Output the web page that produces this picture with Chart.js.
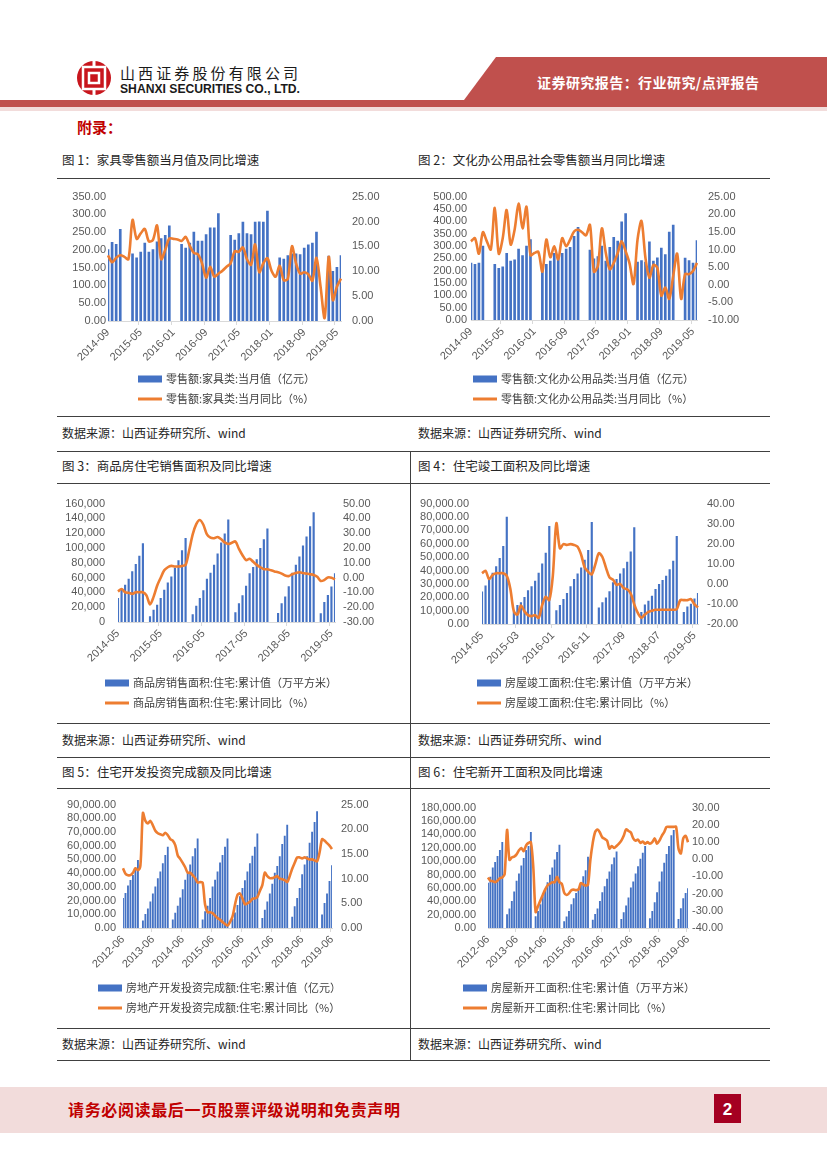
<!DOCTYPE html>
<html>
<head>
<meta charset="utf-8">
<script src="https://cdn.jsdelivr.net/npm/chart.js@4.4.1/dist/chart.umd.min.js"></script>
<style>
body { margin: 0; background: #fff; }
#page { position: relative; width: 827px; height: 1169px; overflow: hidden; font-family: "Noto Sans CJK SC", sans-serif; }
.hl { position: absolute; left: 57px; width: 713px; height: 0; border-top: 1.5px solid #404040; }
.vl { position: absolute; left: 410px; width: 0; border-left: 1.5px solid #404040; }
.cap { position: absolute; font-size: 12.5px; color: #262626; line-height: 16px; white-space: nowrap; }
.src { position: absolute; font-size: 12px; color: #262626; line-height: 16px; white-space: nowrap; }
canvas { position: absolute; }
</style>
</head>
<body>
<div id="page">
  <svg width="827" height="140" style="position:absolute;left:0;top:0">
    <polygon points="496,57 827,57 827,100 464,100" fill="#c0504d"/>
    <rect x="0" y="100" width="827" height="7" fill="#c0504d"/>
    <rect x="0" y="107" width="827" height="4" fill="#f2dcdb"/>
    <circle cx="94" cy="78" r="17" fill="#c8161d"/>
    <rect x="83" y="67" width="22" height="22" fill="none" stroke="#fff" stroke-width="2.5"/>
    <rect x="89" y="73" width="10" height="10" fill="none" stroke="#fff" stroke-width="2.5"/>
    <rect x="92.5" y="60" width="3" height="8" fill="#fff"/>
    <rect x="92.5" y="88" width="3" height="8" fill="#fff"/>
    <text x="120" y="79" font-size="15" fill="#1a1a1a" textLength="178" font-family="Noto Sans CJK SC">山西证券股份有限公司</text>
    <text x="120" y="93" font-size="12" font-weight="bold" fill="#1a1a1a" textLength="180" lengthAdjust="spacingAndGlyphs" font-family="Liberation Sans">SHANXI SECURITIES CO., LTD.</text>
    <text x="537" y="88" font-size="14" font-weight="bold" fill="#fff" textLength="222" font-family="Noto Sans CJK SC">证券研究报告：行业研究/点评报告</text>
    <text x="77" y="133" font-size="15" font-weight="bold" fill="#c00000" font-family="Noto Sans CJK SC">附录：</text>
  </svg>

  <div class="cap" style="left:62px;top:152px">图 1：家具零售额当月值及同比增速</div>
  <div class="cap" style="left:418px;top:152px">图 2：文化办公用品社会零售额当月同比增速</div>
  <div class="hl" style="top:178px"></div>
  <canvas id="c1"></canvas>
  <canvas id="c2"></canvas>
  <div class="hl" style="top:416px"></div>
  <div class="src" style="left:62px;top:425px">数据来源：山西证券研究所、wind</div>
  <div class="src" style="left:418px;top:425px">数据来源：山西证券研究所、wind</div>

  <div class="hl" style="top:451px"></div>
  <div class="vl" style="top:451px;height:609px"></div>
  <div class="cap" style="left:62px;top:458px">图 3：商品房住宅销售面积及同比增速</div>
  <div class="cap" style="left:418px;top:458px">图 4：住宅竣工面积及同比增速</div>
  <div class="hl" style="top:483px"></div>
  <canvas id="c3"></canvas>
  <canvas id="c4"></canvas>
  <div class="hl" style="top:723px"></div>
  <div class="src" style="left:62px;top:732px">数据来源：山西证券研究所、wind</div>
  <div class="src" style="left:418px;top:732px">数据来源：山西证券研究所、wind</div>

  <div class="hl" style="top:757px"></div>
  <div class="cap" style="left:62px;top:764px">图 5：住宅开发投资完成额及同比增速</div>
  <div class="cap" style="left:418px;top:764px">图 6：住宅新开工面积及同比增速</div>
  <div class="hl" style="top:788px"></div>
  <canvas id="c5"></canvas>
  <canvas id="c6"></canvas>
  <div class="hl" style="top:1028px"></div>
  <div class="src" style="left:62px;top:1036px">数据来源：山西证券研究所、wind</div>
  <div class="src" style="left:418px;top:1036px">数据来源：山西证券研究所、wind</div>
  <div class="hl" style="top:1060px"></div>

  <svg width="827" height="90" style="position:absolute;left:0;top:1080px">
    <rect x="0" y="7" width="827" height="46" fill="#f2dcdb"/>
    <text x="68" y="36" font-size="16" font-weight="bold" fill="#c00000" textLength="332" font-family="Noto Sans CJK SC">请务必阅读最后一页股票评级说明和免责声明</text>
    <rect x="714" y="14" width="27" height="29" fill="#a50021"/>
    <text x="727.5" y="35" font-size="17" font-weight="bold" fill="#fff" text-anchor="middle" font-family="Liberation Sans">2</text>
  </svg>
</div>

<script>
// month categories
function months(start, n) {
    const [y0, m0] = start.split('-').map(Number);
    const out = [];
    for (let i = 0; i < n; i++) {
        const t = m0 - 1 + i;
        out.push((y0 + Math.floor(t / 12)) + '-' + String(t % 12 + 1).padStart(2, '0'));
    }
    return out;
}

// 图1 家具
const furnMonths = months('2014-09', 58);
const furnSales = [
    201, 221, 216, 258,
    null, null, 189, 178, 194, 219, 194, 201, 223, 232, 241, 268,
    null, null, 216, 205, 219, 250, 225, 225, 243, 262, 262, 302,
    null, null, 241, 228, 246, 278, 246, 243, 278, 279, 278, 309,
    null, null, 178, 174, 184, 189, 189, 187, 205, 214, 219, 250,
    null, null, 183, 140, 151, 184];
const furnYoY = [
    13.2, 11.8, 12.7, 13.2,
    12.9, 12.4, 20.3, 16.5, 17.6, 18.5, 16.0, 16.3, 19.2, 12.4, 14.3, 16.6,
    16.5, 16.4, 16.1, 16.9, 15.1, 13.7, 13.4, 11.6, 8.7, 10.9, 8.9, 9.5,
    10.1, 10.9, 11.6, 14.0, 13.9, 14.8, 12.4, 11.3, 15.4, 9.8, 11.6, 12.6,
    10.1, 8.9, 11.1, 8.2, 8.5, 15.0, 11.6, 9.5, 9.8, 9.4, 8.1, 12.7,
    6.9, 0.6, 12.9, 4.2, 6.9, 8.5];
const furnLeftTicks = ['0.00', '50.00', '100.00', '150.00', '200.00', '250.00', '300.00', '350.00'];
const furnRightTicks = ['0.00', '5.00', '10.00', '15.00', '20.00', '25.00'];

// 图2 文化办公用品
const officeMonths = months('2014-09', 58);
const officeSales = [
    231, 226, 231, 300,
    null, null, 226, 209, 215, 270, 239, 244, 287, 261, 300, 326,
    null, null, 202, 226, 239, 270, 252, 270, 287, 294, 339, 375,
    null, null, 283, 248, 257, 300, 239, 294, 335, 320, 398, 431,
    null, null, 235, 241, 235, 317, 239, 252, 291, 265, 356, 385,
    null, null, 251, 241, 231, 322];
const officeYoY = [
    12.3, 13.2, 8.8, 14.9,
    12.3, 10.0, 21.8, 8.8, 13.2, 21.2, 11.4, 15.6, 23.0, 16.0, 22.1, 8.4,
    9.0, 9.3, 3.7, 12.8, 7.8, 10.9, 7.2, 13.2, 10.9, 12.8, 15.1, 15.6,
    14.9, 14.0, 17.0, 3.7, 5.3, 16.0, 9.0, 4.4, 6.2, 9.0, 12.3, 9.5,
    6.0, 0.2, 12.8, 18.1, 7.6, 2.0, 5.6, 4.8, -3.1, -0.8, -4.0, 2.5,
    8.8, -4.0, 3.0, 3.0, 3.9, 6.2];
const officeLeftTicks = ['0.00', '50.00', '100.00', '150.00', '200.00', '250.00', '300.00', '350.00', '400.00', '450.00', '500.00'];
const officeRightTicks = ['-10.00', '-5.00', '0.00', '5.00', '10.00', '15.00', '20.00', '25.00'];

// 图3 商品房住宅销售面积
const salesMonths = months('2014-05', 62);
const salesArea = [
    32000, 43000, 50000, 58000, 68000, 78000, 89000, 106000,
    null, 7300, 16000, 23000, 32000, 43000, 53000, 61000, 73000, 83000, 96500, 113000,
    null, 10000, 21500, 32000, 42500, 58000, 66000, 77000, 92000, 107000, 119000, 138000,
    null, 12700, 25000, 35600, 48500, 65600, 74000, 84500, 99500, 111500, 126000, null,
    null, 11600, 25000, 34000, 48000, 66000, 77000, 88000, 103000, 115000, 129000, 148000,
    null, 11500, 26600, 36000, 47500, 65600];
const salesYoY = [
    -9.4, -7.7, -9.9, -10.3, -11.0, -9.9, -9.9, -9.9,
    -12.0, -18.1, -13.0, -5.5, -0.1, 4.9, 7.0, 7.9, 7.5, 7.5, 7.9, 8.6,
    18.3, 29.2, 36.1, 38.9, 35.7, 29.2, 27.0, 26.6, 27.4, 25.9, 23.8, 22.7,
    23.5, 24.4, 19.4, 15.1, 11.8, 12.7, 10.7, 8.6, 7.0, 5.7, 5.7, 4.9,
    4.2, 3.6, 2.7, 1.4, 1.0, 2.3, 3.1, 3.6, 3.1, 2.7, 2.3, 1.8,
    0.5, -2.3, -1.6, 0.1, -0.1, -1.2];
const salesLeftTicks = ['0', '20,000', '40,000', '60,000', '80,000', '100,000', '120,000', '140,000', '160,000'];
const salesRightTicks = ['-30.00', '-20.00', '-10.00', '0.00', '10.00', '20.00', '30.00', '40.00', '50.00'];

// 图4 住宅竣工面积
const doneMonths = months('2014-05', 62);
const doneArea = [
    24000, 28600, 33000, 38000, 43000, 49000, 58000, 80000,
    null, 9000, 14000, 16000, 20000, 25000, 28000, 32000, 38000, 45000, 53000, 73000,
    null, 10000, 14000, 18400, 23000, 28000, 33400, 37500, 42000, 47700, 55000, 76000,
    null, 12000, 16000, 19600, 24300, 31000, 33400, 37500, 41500, 46300, 54000, 72000,
    null, 8800, 14300, 17200, 20800, 26000, 29600, 32700, 35800, 40600, 47000, 65600,
    null, 8800, 12900, 14800, 18900, 23000];
const doneYoY = [
    5.3, 6.5, 2.4, 4.4, 5.3, 5.3, 5.3, 4.0,
    -2.4, -13.7, -15.3, -10.8, -13.7, -15.6, -16.1, -15.6, -16.9, -10.5, -6.5, -8.1,
    4.0, 30.2, 17.7, 19.8, 19.4, 19.8, 19.4, 18.5, 14.5, 8.1, 6.0, 4.8,
    9.7, 15.3, 13.4, 8.1, 3.2, 2.1, -0.5, 0.0, -2.1, -2.7, -4.8, -10.2,
    -14.5, -16.9, -15.3, -14.0, -13.4, -12.9, -12.9, -12.9, -12.9, -12.9, -12.9, -12.6,
    -8.1, -8.1, -8.1, -7.6, -10.2, -11.8];
const doneLeftTicks = ['0.00', '10,000.00', '20,000.00', '30,000.00', '40,000.00', '50,000.00', '60,000.00', '70,000.00', '80,000.00', '90,000.00'];
const doneRightTicks = ['-20.00', '-10.00', '0.00', '10.00', '20.00', '30.00', '40.00'];

// 图5 住宅开发投资完成额
const investMonths = months('2012-06', 85);
const investValue = [
    21600, 25300, 30700, 34800, 38500, 42000, 49400,
    null, 5300, 10000, 14000, 19000, 25000, 30000, 36000, 41000, 47000, 53000, 59000,
    null, 6000, 10800, 16000, 22000, 28000, 35000, 40000, 46000, 52000, 58000, 65000,
    null, 6000, 12000, 16000, 21600, 30000, 35000, 41000, 47500, 53000, 59000, 65000,
    null, 6500, 11000, 16500, 23000, 29000, 34500, 41000, 47000, 52500, 59000, 68700,
    null, 7000, 13000, 19000, 25000, 32000, 40000, 45000, 52000, 61000, 67000, 75000,
    null, 8000, 15600, 21600, 29000, 39000, 46000, 52000, 62000, 70000, 77000, 85000,
    null, 9600, 18000, 25000, 34000, 45600];
const investYoY = [
    12.1, 11.0, 10.7, 10.7, 11.2, 12.1, 11.7,
    12.7, 23.3, 21.7, 21.2, 21.7, 20.8, 19.7, 19.2, 19.0, 18.8, 19.3, 18.8,
    18.0, 17.7, 16.8, 14.7, 14.0, 13.2, 12.3, 11.2, 11.2, 10.7, 10.1, 9.2,
    9.3, 9.2, 4.7, 3.2, 3.2, 3.0, 2.5, 2.0, 1.7, 1.2, 0.8, 0.5,
    1.2, 2.3, 4.7, 6.7, 7.0, 6.0, 4.8, 5.0, 5.3, 5.9, 6.0, 6.3,
    7.5, 8.7, 11.2, 10.5, 10.1, 10.1, 10.3, 10.5, 10.0, 9.9, 9.7, 9.3,
    10.5, 12.0, 13.2, 14.3, 14.3, 14.1, 14.3, 14.1, 13.9, 13.9, 13.7, 13.5,
    15.3, 18.0, 17.7, 17.2, 16.7, 16.0];
const investLeftTicks = ['0.00', '10,000.00', '20,000.00', '30,000.00', '40,000.00', '50,000.00', '60,000.00', '70,000.00', '80,000.00', '90,000.00'];
const investRightTicks = ['0.00', '5.00', '10.00', '15.00', '20.00', '25.00'];

// 图6 住宅新开工面积
const startMonths = months('2012-06', 85);
const startArea = [
    67000, 76000, 90000, 98000, 107000, 116000, 128000,
    null, 20000, 28700, 40000, 54000, 70000, 81000, 93000, 104000, 116000, 122000, 143000,
    null, 17000, 25000, 35000, 47000, 58000, 68000, 79000, 90000, 102000, 113000, 124000,
    null, 9600, 16700, 25000, 35000, 44000, 52000, 59000, 68000, 77000, 86000, 106000,
    null, 12000, 20600, 28700, 40000, 53000, 62000, 73000, 84000, 95000, 105000, 114000,
    null, 13000, 23000, 33000, 45000, 60000, 69000, 81000, 92000, 103000, 112000, 122000,
    null, 14000, 25000, 38000, 53000, 69000, 84000, 97000, 110000, 122000, 138000, 146000,
    null, 13000, 29000, 44000, 52000, 59000];
const startYoY = [
    -10.6, -12.5, -12.8, -13.4, -12.5, -11.0, -10.6,
    -8.7, 17.0, -0.4, 1.0, 1.5, 2.8, 5.2, 6.5, 4.7, 8.0, 9.5, 9.9,
    -4.1, -30.7, -27.4, -24.0, -20.8, -17.7, -15.3, -14.3, -13.4, -13.4, -10.2, -13.4,
    -14.3, -19.5, -20.8, -19.9, -18.0, -17.7, -18.0, -17.7, -13.9, -14.7, -15.3, -14.7,
    -0.4, 9.5, 15.8, 17.3, 15.5, 12.7, 11.8, 10.8, 6.2, 7.7, 6.5, 7.7,
    9.0, 10.8, 13.6, 17.3, 16.4, 15.5, 12.1, 10.8, 11.4, 9.5, 10.3, 9.0,
    9.9, 9.0, 9.9, 12.1, 9.0, 10.8, 13.6, 15.8, 18.8, 18.8, 18.8, 18.8,
    18.8, 6.2, 3.4, 12.1, 13.6, 9.9];
const startLeftTicks = ['0.00', '20,000.00', '40,000.00', '60,000.00', '80,000.00', '100,000.00', '120,000.00', '140,000.00', '160,000.00', '180,000.00'];
const startRightTicks = ['-40.00', '-30.00', '-20.00', '-10.00', '0.00', '10.00', '20.00', '30.00'];

const BLUE = '#4472c4';
const ORANGE = '#ed7d31';
Chart.defaults.font.family = '"Liberation Sans", sans-serif';
Chart.defaults.font.size = 11;
Chart.defaults.color = '#595959';

// two-row legend under the x labels, like the Excel one
const rowLegend = {
    id: 'rowLegend',
    afterDraw(chart, args, opts) {
        const ctx = chart.ctx, area = chart.chartArea;
        const sets = [chart.data.datasets[1], chart.data.datasets[0]];
        ctx.save();
        ctx.font = '11px "Noto Sans CJK SC", sans-serif';
        ctx.textBaseline = 'middle';
        sets.forEach(function (ds, i) {
            const y = area.bottom + opts.dy + i * 20;
            const x = opts.x;
            if (ds.type === 'bar') {
                ctx.fillStyle = ds.backgroundColor;
                ctx.fillRect(x, y - 3.5, 24, 7);
            } else {
                ctx.strokeStyle = ds.borderColor;
                ctx.lineWidth = 3;
                ctx.beginPath();
                ctx.moveTo(x, y);
                ctx.lineTo(x + 24, y);
                ctx.stroke();
            }
            ctx.fillStyle = '#404040';
            ctx.fillText(ds.label, x + 28, y);
        });
        ctx.restore();
    }
};

function drawChart(id, o) {
    const b = o.box, p = o.plot;
    const canvas = document.getElementById(id);
    canvas.width = b.w;
    canvas.height = b.h;
    canvas.style.left = b.x + 'px';
    canvas.style.top = b.y + 'px';
    const xH = 40;
    return new Chart(canvas, {
        type: 'bar',
        data: {
            labels: o.labels,
            datasets: [{
                type: 'line',
                label: o.lineLabel,
                data: o.line,
                yAxisID: 'y1',
                borderColor: ORANGE,
                borderWidth: 2.6,
                pointRadius: 0,
                tension: 0.3,
                order: 0
            }, {
                type: 'bar',
                label: o.barLabel,
                data: o.bars,
                yAxisID: 'y',
                backgroundColor: BLUE,
                barThickness: o.barW,
                order: 1
            }]
        },
        options: {
            responsive: false,
            animation: false,
            layout: { padding: { left: 0, right: 0, top: p.t - b.y, bottom: b.y + b.h - p.b - xH } },
            plugins: {
                legend: { display: false },
                tooltip: { enabled: false },
                rowLegend: { x: o.legendX, dy: o.legendDy }
            },
            scales: {
                x: {
                    offset: false,
                    border: { display: true, color: '#d9d9d9' },
                    grid: {
                        drawOnChartArea: false,
                        drawTicks: true,
                        tickLength: 4,
                        color: function (c) { return c.index % o.step === 0 ? '#d9d9d9' : 'rgba(0,0,0,0)'; }
                    },
                    ticks: {
                        autoSkip: false,
                        maxRotation: 45,
                        minRotation: 45,
                        padding: 1,
                        callback: function (v, i) { return i % o.step === 0 ? o.labels[i] : ''; }
                    },
                    afterFit: function (s) { s.height = xH; }
                },
                y: {
                    position: 'left',
                    min: o.left.min, max: o.left.max,
                    grid: { display: false, drawTicks: false },
                    border: { display: false },
                    ticks: { autoSkip: false, stepSize: o.left.step, padding: o.left.pad, callback: function (v, i) { return o.left.labels[i]; } },
                    afterFit: function (s) { s.width = p.l - b.x; }
                },
                y1: {
                    position: 'right',
                    min: o.right.min, max: o.right.max,
                    grid: { display: false, drawTicks: false },
                    border: { display: false },
                    ticks: { autoSkip: false, stepSize: o.right.step, padding: o.right.pad, callback: function (v, i) { return o.right.labels[i]; } },
                    afterFit: function (s) { s.width = b.x + b.w - p.r; }
                }
            }
        },
        plugins: [rowLegend]
    });
}

drawChart('c1', {
    box: { x: 57, y: 179, w: 352, h: 236 }, plot: { l: 108, r: 341, t: 192, b: 321 },
    labels: furnMonths, bars: furnSales, line: furnYoY, step: 8, barW: 2,
    barLabel: '零售额:家具类:当月值（亿元）', lineLabel: '零售额:家具类:当月同比（%）',
    left: { min: 0, max: 350, step: 50, pad: 2, labels: furnLeftTicks },
    right: { min: 0, max: 25, step: 5, pad: 11, labels: furnRightTicks },
    legendX: 81, legendDy: 58
});
drawChart('c2', {
    box: { x: 411, y: 179, w: 359, h: 236 }, plot: { l: 471, r: 697, t: 192, b: 320 },
    labels: officeMonths, bars: officeSales, line: officeYoY, step: 8, barW: 2,
    barLabel: '零售额:文化办公用品类:当月值（亿元）', lineLabel: '零售额:文化办公用品类:当月同比（%）',
    left: { min: 0, max: 500, step: 50, pad: 4, labels: officeLeftTicks },
    right: { min: -10, max: 25, step: 5, pad: 11, labels: officeRightTicks },
    legendX: 62, legendDy: 59
});
drawChart('c3', {
    box: { x: 57, y: 484, w: 352, h: 238 }, plot: { l: 118, r: 335, t: 497, b: 622 },
    labels: salesMonths, bars: salesArea, line: salesYoY, step: 12, barW: 1.5,
    barLabel: '商品房销售面积:住宅:累计值（万平方米）', lineLabel: '商品房销售面积:住宅:累计同比（%）',
    left: { min: 0, max: 160000, step: 20000, pad: 13, labels: salesLeftTicks },
    right: { min: -30, max: 50, step: 10, pad: 8, labels: salesRightTicks },
    legendX: 48, legendDy: 61
});
drawChart('c4', {
    box: { x: 411, y: 484, w: 359, h: 238 }, plot: { l: 482, r: 698, t: 498, b: 624 },
    labels: doneMonths, bars: doneArea, line: doneYoY, step: 10, barW: 1.5,
    barLabel: '房屋竣工面积:住宅:累计值（万平方米）', lineLabel: '房屋竣工面积:住宅:累计同比（%）',
    left: { min: 0, max: 90000, step: 10000, pad: 13, labels: doneLeftTicks },
    right: { min: -20, max: 40, step: 10, pad: 9, labels: doneRightTicks },
    legendX: 66, legendDy: 59
});
drawChart('c5', {
    box: { x: 57, y: 789, w: 352, h: 238 }, plot: { l: 123, r: 332, t: 803, b: 928 },
    labels: investMonths, bars: investValue, line: investYoY, step: 12, barW: 1.2,
    barLabel: '房地产开发投资完成额:住宅:累计值（亿元）', lineLabel: '房地产开发投资完成额:住宅:累计同比（%）',
    left: { min: 0, max: 90000, step: 10000, pad: 7, labels: investLeftTicks },
    right: { min: 0, max: 25, step: 5, pad: 9, labels: investRightTicks },
    legendX: 41, legendDy: 60
});
drawChart('c6', {
    box: { x: 411, y: 789, w: 359, h: 238 }, plot: { l: 488, r: 688, t: 802, b: 928 },
    labels: startMonths, bars: startArea, line: startYoY, step: 12, barW: 1.2,
    barLabel: '房屋新开工面积:住宅:累计值（万平方米）', lineLabel: '房屋新开工面积:住宅:累计同比（%）',
    left: { min: 0, max: 180000, step: 20000, pad: 12, labels: startLeftTicks },
    right: { min: -40, max: 30, step: 10, pad: 4, labels: startRightTicks },
    legendX: 52, legendDy: 60
});
</script>
</body>
</html>
